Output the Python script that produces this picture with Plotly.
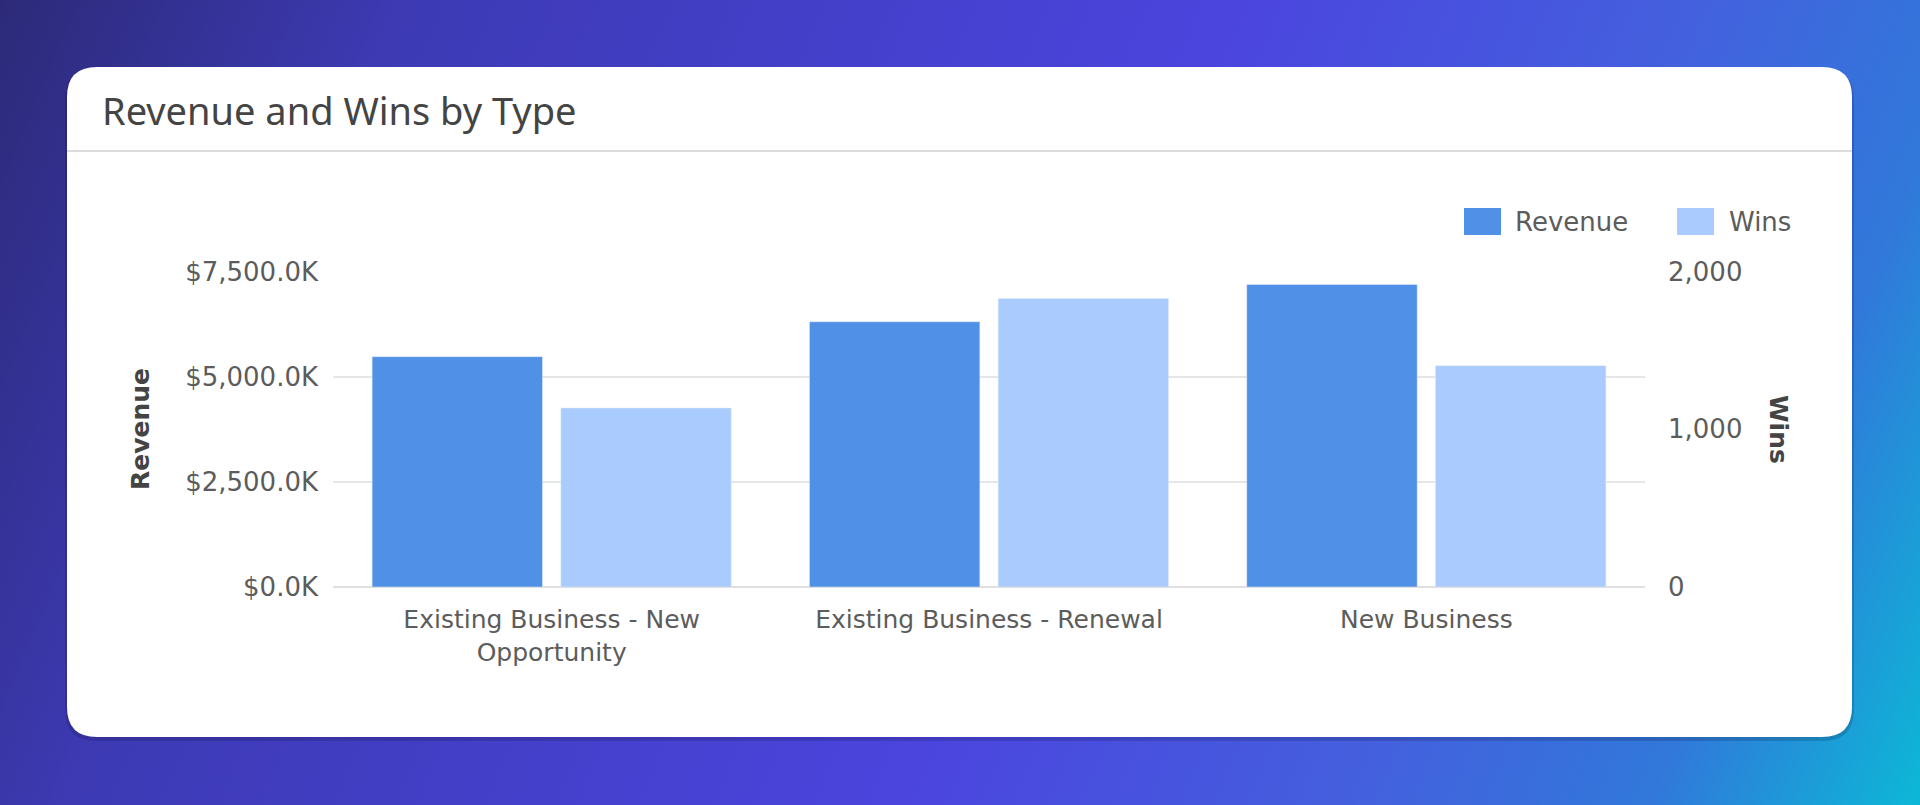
import base64

import plotly.graph_objects as go

# data
categories = ["Existing Business - New Opportunity", "Existing Business - Renewal", "New Business"]
category_labels = ["Existing Business - New<br>Opportunity", "Existing Business - Renewal", "New Business"]
revenue_k = [5475, 6305, 7190]  # thousands of $
wins = [1135, 1829, 1403]
revenue_ticks = [0, 2500, 5000, 7500]
wins_ticks = [0, 1000, 2000]

REVENUE_COLOR = "#5090e6"
WINS_COLOR = "#a9cbfd"
TEXT_COLOR = "#5c5c5c"
FONT = "DejaVu Sans"

W, H = 1920, 805
ML, MR, MT, MB = 333, 275, 271, 218
PW, PH = W - ML - MR, H - MT - MB

# small headroom so the top gridline is drawn; both axes keep the same ratio
HEADROOM = 1.0015


def px_x(px):
    return (px - ML) / PW


def px_y(py):
    return (H - MB - py) / PH


def rounded_rect(x0, y0, x1, y1, r):
    pts = [
        f"M{px_x(x0 + r)},{px_y(y0)}",
        f"L{px_x(x1 - r)},{px_y(y0)}",
        f"Q{px_x(x1)},{px_y(y0)} {px_x(x1)},{px_y(y0 + r)}",
        f"L{px_x(x1)},{px_y(y1 - r)}",
        f"Q{px_x(x1)},{px_y(y1)} {px_x(x1 - r)},{px_y(y1)}",
        f"L{px_x(x0 + r)},{px_y(y1)}",
        f"Q{px_x(x0)},{px_y(y1)} {px_x(x0)},{px_y(y1 - r)}",
        f"L{px_x(x0)},{px_y(y0 + r)}",
        f"Q{px_x(x0)},{px_y(y0)} {px_x(x0 + r)},{px_y(y0)}",
        "Z",
    ]
    return " ".join(pts)


# background gradient as an inline svg
bg_svg = f"""<svg xmlns='http://www.w3.org/2000/svg' width='{W}' height='{H}' viewBox='0 0 {W} {H}' preserveAspectRatio='none'>
<defs><linearGradient id='g' gradientUnits='userSpaceOnUse' x1='0' y1='0' x2='{W}' y2='{H}'>
<stop offset='0' stop-color='#2c2a78'/>
<stop offset='0.18' stop-color='#3d3ab4'/>
<stop offset='0.55' stop-color='#4b45de'/>
<stop offset='0.75' stop-color='#4460de'/>
<stop offset='0.88' stop-color='#3178da'/>
<stop offset='1' stop-color='#0cb8d6'/>
</linearGradient></defs>
<rect width='{W}' height='{H}' fill='url(#g)'/>
</svg>"""
bg_uri = "data:image/svg+xml;base64," + base64.b64encode(bg_svg.encode()).decode()

fig = go.Figure()
fig.add_trace(go.Bar(
    x=categories, y=revenue_k, name="Revenue", marker_color=REVENUE_COLOR,
    offsetgroup="1", yaxis="y", hovertemplate="%{x}<br>$%{y:,.1f}K<extra></extra>",
))
fig.add_trace(go.Bar(
    x=categories, y=wins, name="Wins", marker_color=WINS_COLOR,
    offsetgroup="2", yaxis="y2", hovertemplate="%{x}<br>%{y:,}<extra></extra>",
))

shapes = [
    # soft shadow + white card
    dict(type="path", xref="paper", yref="paper", layer="below",
         path=rounded_rect(65, 68, 1854, 741, 32), fillcolor="rgba(10,10,40,0.18)", line_width=0),
    dict(type="path", xref="paper", yref="paper", layer="below",
         path=rounded_rect(67, 67, 1852, 737, 30), fillcolor="white", line_width=0),
    # header separator
    dict(type="line", xref="paper", yref="paper", layer="below",
         x0=px_x(67), x1=px_x(1852), y0=px_y(151), y1=px_y(151),
         line=dict(color="#dcdcdc", width=2)),
    # legend swatches
    dict(type="rect", xref="paper", yref="paper", x0=px_x(1464), x1=px_x(1501),
         y0=px_y(208), y1=px_y(235), fillcolor=REVENUE_COLOR, line_width=0),
    dict(type="rect", xref="paper", yref="paper", x0=px_x(1677), x1=px_x(1714),
         y0=px_y(208), y1=px_y(235), fillcolor=WINS_COLOR, line_width=0),
]

annotations = [
    dict(text="Revenue and Wins by Type", x=px_x(100), y=px_y(110), xanchor="left", yanchor="middle",
         font=dict(family="Noto Sans", size=38, color="#444444")),
    dict(text="<b>Revenue</b>", x=px_x(140), y=px_y(429), textangle=-90,
         xanchor="center", yanchor="middle",
         font=dict(family=FONT, size=25, color="#444444")),
    dict(text="<b>Wins</b>", x=px_x(1779), y=px_y(429), textangle=90,
         xanchor="center", yanchor="middle",
         font=dict(family=FONT, size=25, color="#444444")),
    dict(text="Revenue", x=px_x(1513), y=px_y(222), xanchor="left", yanchor="middle",
         font=dict(family=FONT, size=26, color=TEXT_COLOR)),
    dict(text="Wins", x=px_x(1727), y=px_y(222), xanchor="left", yanchor="middle",
         font=dict(family=FONT, size=26, color=TEXT_COLOR)),
]
for a in annotations:
    a.update(xref="paper", yref="paper", showarrow=False)

fig.update_layout(
    width=W, height=H,
    margin=dict(l=ML, r=MR, t=MT, b=MB, autoexpand=False),
    paper_bgcolor="#3b3aa8", plot_bgcolor="rgba(0,0,0,0)",
    barmode="group", bargap=0.137, bargroupgap=0.097,
    showlegend=False,
    font=dict(family=FONT, size=25, color=TEXT_COLOR),
    images=[dict(source=bg_uri, xref="paper", yref="paper", x=px_x(0), y=px_y(0),
                 sizex=W / PW, sizey=H / PH, xanchor="left", yanchor="top",
                 sizing="stretch", layer="below")],
    shapes=shapes,
    annotations=annotations,
    xaxis=dict(tickvals=categories, ticktext=category_labels, showgrid=False,
               zeroline=False, showline=False, ticks="", ticklabelstandoff=15,
               tickfont=dict(size=25, color=TEXT_COLOR)),
    yaxis=dict(range=[0, 7500 * HEADROOM], tickvals=revenue_ticks,
               ticktext=[f"${v:,.1f}K" for v in revenue_ticks],
               showgrid=True, gridcolor="#e6e6e6", gridwidth=2,
               zeroline=True, zerolinecolor="#e0e0e0", zerolinewidth=2,
               ticks="", ticklabelstandoff=14, tickfont=dict(size=26, color=TEXT_COLOR)),
    yaxis2=dict(range=[0, 2000 * HEADROOM], tickvals=wins_ticks,
                ticktext=[f"{v:,}" for v in wins_ticks], overlaying="y",
                side="right", showgrid=False, zeroline=False, ticks="", ticklabelstandoff=22,
                tickfont=dict(size=26, color=TEXT_COLOR)),
)

fig.write_html("out.html", config={"displayModeBar": False},
               post_script="document.body.style.margin='0';")
